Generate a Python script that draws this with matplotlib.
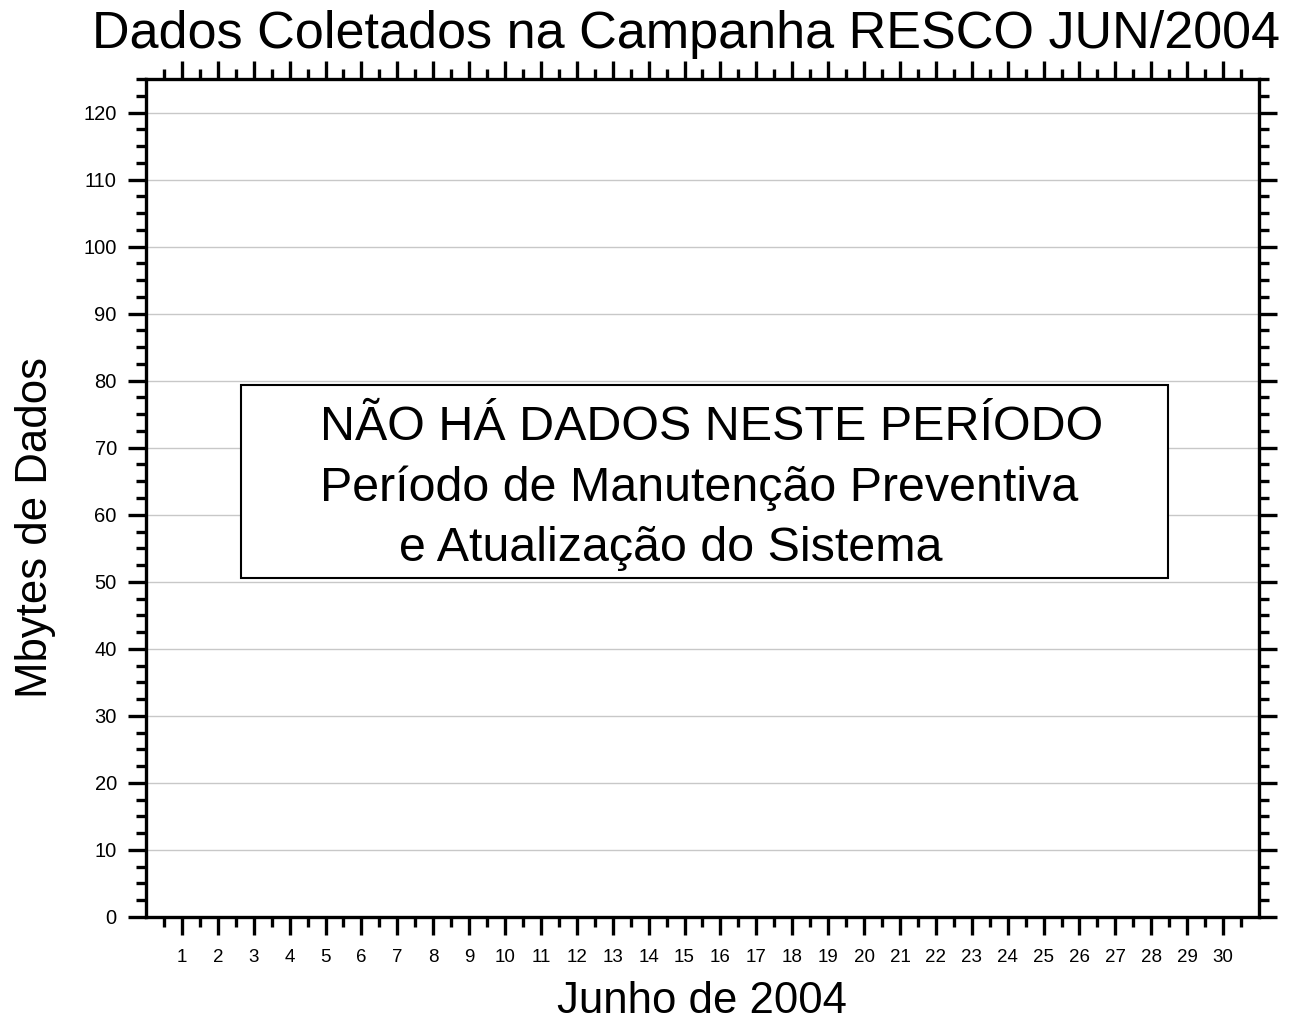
import matplotlib
matplotlib.use("Agg")
import matplotlib.pyplot as plt
from matplotlib.ticker import MultipleLocator, FixedLocator
from matplotlib.patches import Rectangle

plt.rcParams['font.family'] = ['Liberation Sans', 'DejaVu Sans']

days = list(range(1, 31))
day_labels = [str(d) for d in days]
y_ticks = [0, 10, 20, 30, 40, 50, 60, 70, 80, 90, 100, 110, 120]
title = "Dados Coletados na Campanha RESCO JUN/2004"
xlabel = "Junho de 2004"
ylabel = "Mbytes de Dados"
msg_lines = ["NÃO HÁ DADOS NESTE PERÍODO",
             "Período de Manutenção Preventiva",
             "e Atualização do Sistema"]

W, H = 1292, 1024
fig = plt.figure(figsize=(W / 100, H / 100), dpi=100)
ax = fig.add_axes([146 / W, 1 - 917 / H, (1259 - 146) / W, (917 - 79) / H])
ax.set_xlim(0, 31)
ax.set_ylim(0, 125)

ax.xaxis.set_major_locator(FixedLocator(days))
ax.set_xticklabels(day_labels, fontsize=13.5)
ax.xaxis.set_minor_locator(FixedLocator([d - 0.5 for d in days] + [30.5]))
ax.yaxis.set_major_locator(FixedLocator(y_ticks))
ax.set_yticklabels([str(v) for v in y_ticks], fontsize=14.5)
ax.yaxis.set_minor_locator(MultipleLocator(2.5))

for g in y_ticks[1:]:
    ax.axhline(g, color='#c8c8c8', lw=1.0, zorder=0)

ax.tick_params(which='both', direction='out', top=True, right=True,
               labeltop=False, labelright=False, width=2.4, color='black')
ax.tick_params(which='major', length=13)
ax.tick_params(axis='y', which='major', pad=8)
ax.tick_params(axis='x', which='major', pad=10)
ax.tick_params(which='minor', length=7)
for s in ax.spines.values():
    s.set_linewidth(2.4)

fig.text(686 / W, 1 - 48 / H, title, fontsize=37.5, ha='center', va='baseline')
fig.text(702 / W, 1 - 1013 / H, xlabel, fontsize=31.5, ha='center', va='baseline')
fig.text(36 / W, 1 - 527 / H, ylabel, fontsize=31.5, ha='center', va='center',
         rotation=90)

rect = Rectangle((2.65, 50.5), 28.47 - 2.65, 79.3 - 50.5, fill=True,
                 facecolor='white', edgecolor='black', lw=1.5, zorder=3)
ax.add_patch(rect)
ax.text(4.85, 73.0, msg_lines[0], fontsize=34.8, ha='left', va='center', zorder=4)
ax.text(4.85, 64.0, msg_lines[1], fontsize=34.8, ha='left', va='center', zorder=4)
ax.text(7.05, 55.0, msg_lines[2], fontsize=34.8, ha='left', va='center', zorder=4)

fig.savefig("out.png", dpi=100)
